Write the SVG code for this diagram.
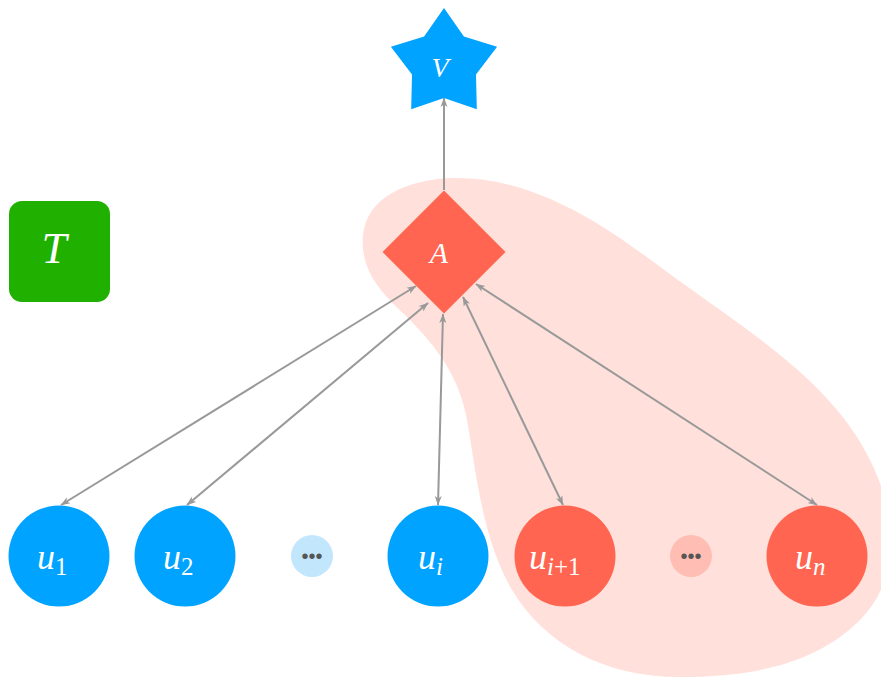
<svg xmlns="http://www.w3.org/2000/svg" width="881" height="677" viewBox="0 0 881 677">
  <style>
    .blue { fill: #00a3ff; }
    .coral { fill: #ff6550; }
    .math { font-family: "Liberation Serif", "DejaVu Serif", serif; font-style: italic; fill: #ffffff; }
    .sub { font-family: "Liberation Serif", "DejaVu Serif", serif; font-style: normal; fill: #ffffff; }
    .dots { font-family: "Liberation Sans", Arial, sans-serif; font-size: 20px; fill: #555555; }
    .edge { stroke: #999999; stroke-width: 2; fill: none; }
  </style>
  <defs>
    <marker id="head" viewBox="0 0 10 8" refX="9" refY="4" markerWidth="10" markerHeight="8" markerUnits="userSpaceOnUse" orient="auto-start-reverse">
      <path d="M0,0.5 L9.5,4 L0,7.5 L2.5,4 Z" fill="#999999"/>
    </marker>
  </defs>

  <rect width="881" height="677" fill="#ffffff"/>

  <!-- highlighted region -->
  <path id="region" fill="#ffe0db" d="M 452 178 C 530 176, 600 222, 655 263 C 720 312, 800 360, 845 420 C 895 485, 910 570, 860 620 C 815 665, 750 677, 680 677 C 605 677, 545 645, 512 590 C 480 535, 475 460, 466 415 C 457 370, 430 340, 405 315 C 378 290, 360 268, 363 235 C 367 198, 405 180, 452 178 Z"/>

  <!-- connectors -->
  <g id="connectors">
    <line class="edge" x1="444" y1="190" x2="444" y2="98" marker-end="url(#head)"/>
    <line class="edge" x1="61" y1="505" x2="416" y2="286" marker-start="url(#head)" marker-end="url(#head)"/>
    <line class="edge" x1="187" y1="505" x2="428" y2="303" marker-start="url(#head)" marker-end="url(#head)"/>
    <line class="edge" x1="438" y1="505" x2="443" y2="314" marker-start="url(#head)" marker-end="url(#head)"/>
    <line class="edge" x1="563" y1="505" x2="463" y2="297" marker-start="url(#head)" marker-end="url(#head)"/>
    <line class="edge" x1="817" y1="505" x2="476" y2="284" marker-start="url(#head)" marker-end="url(#head)"/>
  </g>

  <!-- star V -->
  <g id="node-V">
    <polygon class="blue" points="444,8 463.9,36.6 497.1,46.8 476,74.4 476.8,109.2 444,98 411.2,109.2 412,74.4 390.9,46.8 424.1,36.6"/>
    <text class="math" x="440" y="77" font-size="28" text-anchor="middle">V</text>
  </g>

  <!-- diamond A -->
  <g id="node-A">
    <polygon class="coral" points="444,190.5 505.5,252 444,313.5 382.5,252"/>
    <text class="math" x="439" y="263" font-size="30" text-anchor="middle">A</text>
  </g>

  <!-- T -->
  <g id="node-T">
    <rect x="9" y="201" width="101" height="101" rx="13" fill="#20b000"/>
    <text class="math" x="54" y="263" font-size="45" text-anchor="middle">T</text>
  </g>

  <!-- u nodes -->
  <g id="node-u1">
    <circle class="blue" cx="59" cy="556" r="50.5"/>
    <text class="math" x="37" y="569" font-size="36">u<tspan class="sub" font-size="25" dy="6">1</tspan></text>
  </g>
  <g id="node-u2">
    <circle class="blue" cx="185" cy="556" r="50.5"/>
    <text class="math" x="163" y="569" font-size="36">u<tspan class="sub" font-size="25" dy="6">2</tspan></text>
  </g>
  <g id="node-dots1">
    <circle cx="312" cy="556" r="21" fill="#c2e7fd"/>
    <text class="dots" x="312" y="563" text-anchor="middle">•••</text>
  </g>
  <g id="node-ui">
    <circle class="blue" cx="438" cy="556" r="50.5"/>
    <text class="math" x="418" y="569" font-size="36">u<tspan font-size="25" dy="6">i</tspan></text>
  </g>
  <g id="node-ui1">
    <circle class="coral" cx="565" cy="556" r="50.5"/>
    <text class="math" x="529" y="569" font-size="36">u<tspan font-size="25" dy="6">i</tspan><tspan class="sub" font-size="25">+1</tspan></text>
  </g>
  <g id="node-dots2">
    <circle cx="691" cy="556" r="21" fill="#ffbdb3"/>
    <text class="dots" x="691" y="563" text-anchor="middle">•••</text>
  </g>
  <g id="node-un">
    <circle class="coral" cx="817" cy="556" r="50.5"/>
    <text class="math" x="795" y="569" font-size="36">u<tspan font-size="25" dy="6">n</tspan></text>
  </g>
</svg>
